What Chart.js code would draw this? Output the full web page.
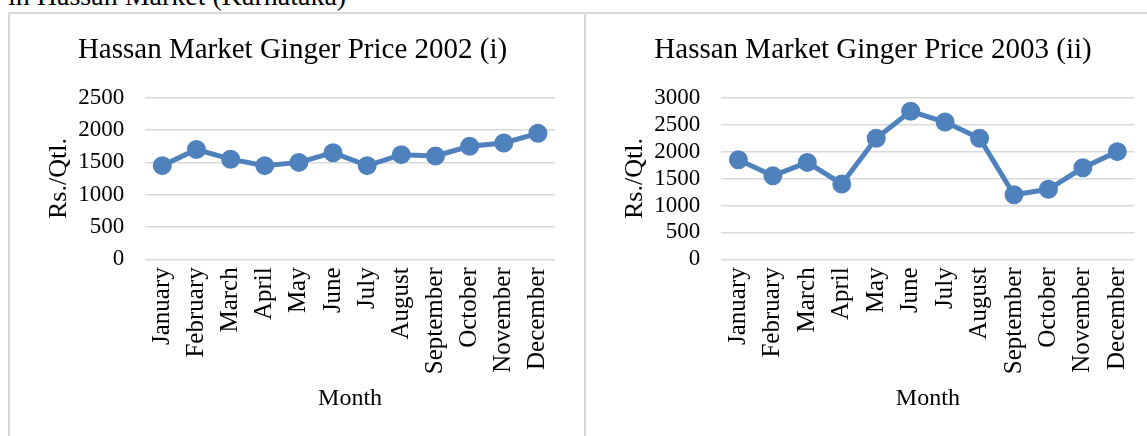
<!DOCTYPE html>
<html>
<head>
<meta charset="utf-8">
<script src="https://cdn.jsdelivr.net/npm/chart.js@4"></script>
<style>
    html, body { margin: 0; padding: 0; background: #fff; overflow: hidden; }
    body { width: 1147px; height: 436px; position: relative; font-family: "Liberation Serif", serif; }
    .caption { position: absolute; left: 8px; top: -18px; font-size: 28px; line-height: 28px; color: #000; white-space: nowrap; }
    .box { position: absolute; top: 12px; height: 500px; border: 2px solid #d9d9d9; box-sizing: border-box; }
    #box-a { left: 8px; width: 578px; }
    #box-b { left: 584px; width: 600px; }
    canvas { position: absolute; top: 14px; }
    #chart-2002 { left: 10px; }
    /* a bit wider than the window: the right box is cut off in the original too */
    #chart-2003 { left: 586px; }
</style>
</head>
<body>
<div class="caption">in Hassan Market (Karnataka)</div>
<div class="box" id="box-a"></div>
<div class="box" id="box-b"></div>
<canvas id="chart-2002" width="574" height="422"></canvas>
<canvas id="chart-2003" width="570" height="422"></canvas>

<script>
// months on the x axis (same for both years)
const months = ['January', 'February', 'March', 'April', 'May', 'June',
    'July', 'August', 'September', 'October', 'November', 'December'];

// price in Rs./Qtl.
const price2002 = [1450, 1700, 1550, 1450, 1500, 1650, 1450, 1620, 1600, 1750, 1800, 1950];
const price2003 = [1850, 1550, 1800, 1400, 2250, 2750, 2550, 2250, 1200, 1300, 1700, 2000];

const title2002 = 'Hassan Market Ginger Price 2002 (i)';
const title2003 = 'Hassan Market Ginger Price 2003 (ii)';
const yTitle = 'Rs./Qtl.';
const xTitle = 'Month';

const SERIF = '"Liberation Serif", "Times New Roman", serif';
const LINE_BLUE = '#4f81bd';

/**
 * Build one Excel-style line chart.
 */
function buildPriceChart(canvasId, title, values, yMax, padRight) {
    const ctx = document.getElementById(canvasId);
    if (!ctx) return null;

    return new Chart(ctx, {
        type: 'line',
        data: {
            labels: months,
            datasets: [{
                data: values,
                borderColor: LINE_BLUE,
                backgroundColor: LINE_BLUE,
                borderWidth: 5,
                pointRadius: 7,
                pointBackgroundColor: LINE_BLUE,
                pointBorderColor: LINE_BLUE,
                tension: 0
            }]
        },
        options: {
            responsive: false,
            animation: false,
            layout: {
                autoPadding: false,
                padding: { top: 10, left: 20, right: padRight, bottom: 17 }
            },
            plugins: {
                legend: { display: false },
                tooltip: { enabled: false },
                title: {
                    display: true,
                    text: title,
                    color: '#000',
                    font: { family: SERIF, size: 29, weight: 'normal' },
                    padding: { top: 9, bottom: 30 }
                }
            },
            scales: {
                x: {
                    offset: true,
                    grid: { display: false, drawTicks: false },
                    border: { display: false },
                    ticks: {
                        color: '#000',
                        autoSkip: false,
                        minRotation: 90,
                        maxRotation: 90,
                        padding: 8,
                        font: { family: SERIF, size: 25 }
                    },
                    title: {
                        display: true,
                        text: xTitle,
                        color: '#000',
                        font: { family: SERIF, size: 24 },
                        padding: { top: 2, bottom: 6 }
                    }
                },
                y: {
                    min: 0,
                    max: yMax,
                    grid: { color: '#d9d9d9', lineWidth: 1.5, drawTicks: false },
                    border: { display: false },
                    ticks: {
                        stepSize: 500,
                        autoSkip: false,
                        color: '#000',
                        padding: 21,
                        font: { family: SERIF, size: 23 },
                        callback: v => String(v)
                    },
                    title: {
                        display: true,
                        text: yTitle,
                        color: '#000',
                        font: { family: SERIF, size: 26 },
                        // tick padding is counted twice by Chart.js, pull the title back in
                        padding: { top: 14, bottom: -18 }
                    }
                }
            }
        }
    });
}

buildPriceChart('chart-2002', title2002, price2002, 2500, 29);
buildPriceChart('chart-2003', title2003, price2003, 3000, 16);
</script>
</body>
</html>
